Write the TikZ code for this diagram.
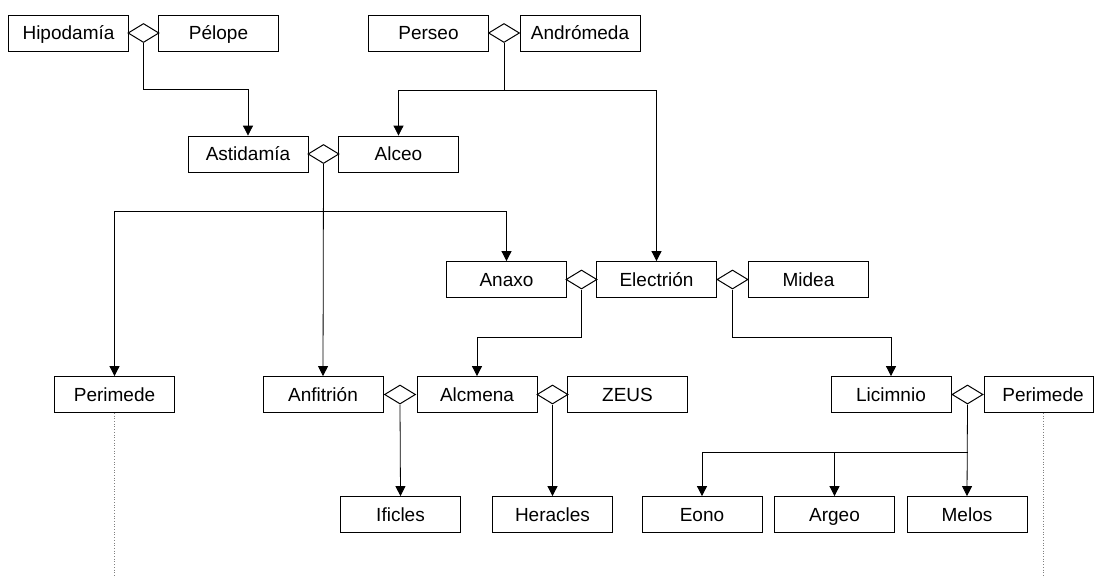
\documentclass[tikz,border=0pt]{standalone}
\usepackage{fontspec}
\setmainfont{Liberation Sans}
\usetikzlibrary{shapes.geometric,arrows.meta}
\begin{document}
\begin{tikzpicture}[x=1pt,y=-1pt,
  person/.style={draw,line width=0.8pt,rectangle,minimum width=120pt,minimum height=36pt,
    inner sep=0pt,text height=13.5pt,text depth=0pt,font=\fontsize{19}{21}\selectfont},
  union/.style={draw,line width=1pt,diamond,minimum width=31pt,minimum height=19pt,inner sep=0pt,fill=white},
  link/.style={line width=0.8pt,-{Triangle[width=10pt,length=10pt]}},
  wire/.style={line width=0.8pt},
  lineage/.style={line width=0.7pt,dotted,gray}]
\useasboundingbox (0,0) rectangle (1095,578);

% first generation
\node[person] (hipo) at (68.5,33) {Hipodamía};
\node[union] (dHP) at (143.5,33) {};
\node[person] (pelope) at (218.5,33) {Pélope};
\node[person] (perseo) at (428.5,33) {Perseo};
\node[union] (dPA) at (504,33) {};
\node[person] (andro) at (580,33) {Andrómeda};

% second generation
\node[person] (astid) at (248,154) {Astidamía};
\node[union] (dAA) at (323.5,154) {};
\node[person] (alceo) at (398.5,154) {Alceo};

% third generation
\node[person] (anaxo) at (506.5,279.5) {Anaxo};
\node[union] (dAE) at (581.5,279.5) {};
\node[person] (electrion) at (656.5,279.5) {Electrión};
\node[union] (dEM) at (732.5,279.5) {};
\node[person] (midea) at (808.5,279.5) {Midea};

% fourth generation
\node[person] (perimL) at (114.5,394.5) {Perimede};
\node[person] (anfit) at (323,394.5) {Anfitrión};
\node[union] (dAnA) at (400,394.5) {};
\node[person] (alcmena) at (477,394.5) {Alcmena};
\node[union] (dAZ) at (552.5,394.5) {};
\node[person] (zeus) at (627.5,394.5) {ZEUS};
\node[person] (licim) at (891,394.5) {Licimnio};
\node[union] (dLP) at (967.5,394.5) {};
\node[person,minimum width=109pt] (perimR) at (1038.5,394.5) {\hspace*{9pt}Perimede};

% fifth generation
\node[person] (ificles) at (400.5,514.5) {Ificles};
\node[person] (heracles) at (552.5,514.5) {Heracles};
\node[person] (eono) at (702,514.5) {Eono};
\node[person] (argeo) at (834.5,514.5) {Argeo};
\node[person] (melos) at (967,514.5) {Melos};

% junction points
\coordinate (jHP) at (143.5,89);
\coordinate (jPA) at (504,90);
\coordinate (jAA) at (323.5,211);
\coordinate (jAE) at (581.5,337);
\coordinate (jEM) at (732.5,337);
\coordinate (jLP) at (967.5,452);
\coordinate (endL) at (114.5,578);
\coordinate (endR) at (1043,578);

% descent lines
\draw[link] (dHP.south) -- (jHP) -| (astid.north);
\draw[wire] (dPA.south) -- (jPA);
\draw[link] (jPA) -| (alceo.north);
\draw[link] (jPA) -| (electrion.north);
\draw[link] (dAA.south) -- (anfit.north);
\draw[link] (jAA) -| (perimL.north);
\draw[link] (jAA) -| (anaxo.north);
\draw[link] (dAE.south) -- (jAE) -| (alcmena.north);
\draw[link] (dEM.south) -- (jEM) -| (licim.north);
\draw[link] (dAnA.south) -- (ificles.north);
\draw[link] (dAZ.south) -- (heracles.north);
\draw[link] (dLP.south) -- (melos.north);
\draw[link] (jLP) -| (eono.north);
\draw[link] (jLP) -| (argeo.north);

% lines continuing beyond the chart
\draw[lineage] (perimL.south) -- (endL);
\draw[lineage] ([xshift=4.5pt]perimR.south) -- (endR);
\end{tikzpicture}
\end{document}
